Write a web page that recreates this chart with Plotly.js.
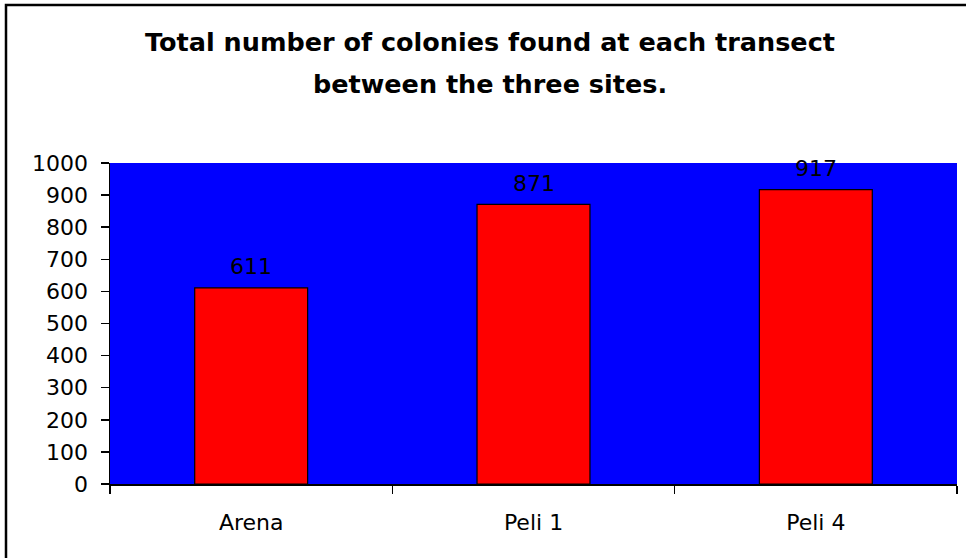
<!DOCTYPE html>
<html>
<head>
<meta charset="utf-8">
<script src="https://cdn.plot.ly/plotly-3.0.1.min.js"></script>
<style>html,body{margin:0;padding:0;background:#fff;}#chart{width:966px;height:558px;}</style>
</head>
<body>
<div id="chart"></div>
<script>
const categories = ["Arena", "Peli 1", "Peli 4"];
const colonies = [611, 871, 917];
const yTicks = [0, 100, 200, 300, 400, 500, 600, 700, 800, 900, 1000];
const titleLine1 = "Total number of colonies found at each transect";
const titleLine2 = "between the three sites.";

const FONT = "'DejaVu Sans', Arial, sans-serif";

const trace = {
  type: "bar",
  x: categories,
  y: colonies,
  width: 0.4,
  marker: { color: "#ff0000", line: { color: "#000000", width: 1.2 } },
  hoverinfo: "skip"
};

const valueLabels = categories.map((c, i) => ({
  x: c, y: colonies[i], xref: "x", yref: "y",
  text: String(colonies[i]), showarrow: false,
  yanchor: "middle", yshift: 21,
  font: { family: FONT, size: 22, color: "#000" }
}));

const layout = {
  width: 966, height: 558,
  margin: { l: 110, r: 9, t: 163, b: 74, pad: 0 },
  paper_bgcolor: "#ffffff",
  plot_bgcolor: "#0000ff",
  showlegend: false,
  title: {
    text: titleLine1,
    font: { family: FONT, size: 25.5, color: "#000", weight: "bold" },
    xref: "container", yref: "container",
    x: 490/966, xanchor: "center",
    y: 1 - 42/558, yanchor: "middle"
  },
  xaxis: {
    type: "category",
    range: [-0.5, 2.5],
    showgrid: false, zeroline: false,
    showline: true, linecolor: "#000", linewidth: 1.5,
    ticks: "outside", tickson: "boundaries", ticklen: 8, tickwidth: 1.5, tickcolor: "#000",
    ticklabelstandoff: 18,
    tickfont: { family: FONT, size: 22, color: "#000" }
  },
  yaxis: {
    range: [0, 1000],
    tickvals: yTicks,
    ticktext: yTicks.map(String),
    showgrid: false, zeroline: false,
    showline: true, linecolor: "#000", linewidth: 1.5,
    ticks: "outside", ticklen: 8, tickwidth: 1.5, tickcolor: "#000",
    ticklabelstandoff: 8,
    tickfont: { family: FONT, size: 22, color: "#000" }
  },
  annotations: [
    {
      text: titleLine2, showarrow: false,
      xref: "paper", yref: "paper",
      x: (490 - 110) / 847, xanchor: "center",
      y: (484 - 84) / 321, yanchor: "middle",
      font: { family: FONT, size: 25.5, color: "#000", weight: "bold" }
    }
  ].concat(valueLabels),
  shapes: [
    {
      type: "rect", xref: "paper", yref: "paper",
      x0: (6 - 110) / 847, x1: 2,
      y0: -1, y1: (484 - 5) / 321,
      line: { color: "#000", width: 2.5 }, fillcolor: "rgba(0,0,0,0)",
      layer: "below"
    }
  ],
  bargap: 0.6
};

Plotly.newPlot("chart", [trace], layout, { displayModeBar: false, staticPlot: true });
</script>
</body>
</html>
